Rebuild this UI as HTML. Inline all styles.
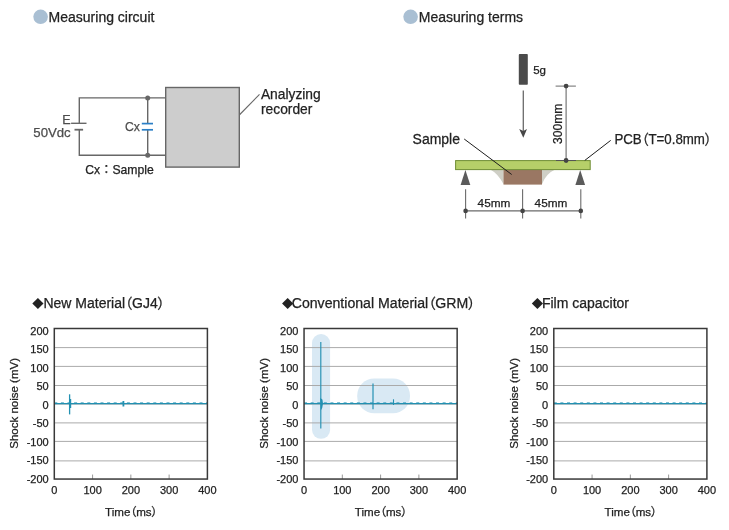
<!DOCTYPE html>
<html><head><meta charset="utf-8"><title>Measuring circuit / Measuring terms</title>
<style>
html,body{margin:0;padding:0;background:#fff;width:729px;height:530px;overflow:hidden}
svg{display:block;will-change:transform}
svg text{font-family:"Liberation Sans", "Noto Sans CJK JP", sans-serif;fill:#222;stroke:#222;stroke-width:0.25px}
.cj{font-family:"Noto Sans CJK JP",sans-serif;font-feature-settings:"palt"}
.cjf{font-family:"Noto Sans CJK JP",sans-serif}
</style></head><body>
<svg width="729" height="530" viewBox="0 0 729 530">
<rect width="729" height="530" fill="#fff"/>
<circle cx="40.6" cy="16.8" r="7.3" fill="#a9bfd3"/>
<text x="48.60" y="22.00" font-size="14">Measuring circuit</text>
<circle cx="410.6" cy="16.8" r="7.3" fill="#a9bfd3"/>
<text x="418.80" y="22.00" font-size="14">Measuring terms</text>
<g stroke="#676767" stroke-width="1.4" fill="none">
<polyline points="165.7,97.9 79.3,97.9 79.3,123.3"/>
<polyline points="165.7,155.3 79.3,155.3 79.3,129.7"/>
<line x1="71.1" y1="123.3" x2="86.5" y2="123.3"/>
<line x1="74.5" y1="129.7" x2="83.1" y2="129.7" stroke-width="1.8"/>
<line x1="147.7" y1="97.9" x2="147.7" y2="123.6"/>
<line x1="147.7" y1="129.8" x2="147.7" y2="155.3"/>
<line x1="239.3" y1="115" x2="259.5" y2="94.4" stroke-width="1.1"/>
</g>
<circle cx="147.7" cy="97.9" r="2.5" fill="#676767"/>
<circle cx="147.7" cy="155.3" r="2.5" fill="#676767"/>
<g stroke="#2b7fc6" stroke-width="1.7"><line x1="141.8" y1="123.6" x2="153" y2="123.6"/><line x1="141.8" y1="129.8" x2="153" y2="129.8"/></g>
<rect x="165.7" y="87.5" width="73.6" height="79.6" fill="#cdcdcd" stroke="#676767" stroke-width="1.4"/>
<text x="62.20" y="124.40" font-size="12.6" style="fill:#4d4d4d;stroke:#4d4d4d">E</text>
<text x="33.30" y="136.90" font-size="13.2" style="fill:#4d4d4d;stroke:#4d4d4d">50Vdc</text>
<text x="125.00" y="131.10" font-size="12.2" style="fill:#4d4d4d;stroke:#4d4d4d">Cx</text>
<text x="85.30" y="173.80" font-size="12.2">Cx<tspan class="cjf">：</tspan>Sample</text>
<text x="260.90" y="98.60" font-size="13.8">Analyzing</text>
<text x="261.00" y="114.40" font-size="13.8">recorder</text>
<rect x="518.8" y="54.1" width="9" height="30.6" rx="0.8" fill="#4b4b4b"/>
<text x="533.20" y="74.00" font-size="11.5">5g</text>
<line x1="523.3" y1="90.5" x2="523.3" y2="131" stroke="#6a6a6a" stroke-width="1.3"/>
<path d="M519.2,129.1 L523.3,131 L527,129.1 L523.3,137.7 Z" fill="#474747"/>
<line x1="555.6" y1="86.1" x2="575.9" y2="86.1" stroke="#6a6a6a" stroke-width="1"/>
<line x1="566.1" y1="86.1" x2="566.1" y2="160.4" stroke="#6a6a6a" stroke-width="1.1"/>
<circle cx="566.1" cy="86.1" r="2.4" fill="#444"/>
<text transform="translate(562.40,144.00) rotate(-90)" font-size="12.1">300mm</text>
<path d="M490.2,169.5 L503.6,169.5 L503.6,184.3 Q498,173.5 490.2,169.5 Z" fill="#cfcfc6"/>
<path d="M555.2,169.5 L541.9,169.5 L541.9,184.3 Q546,173.5 555.2,169.5 Z" fill="#cfcfc6"/>
<rect x="503.5" y="169.6" width="38.5" height="15" fill="#9a7763"/>
<rect x="455.6" y="160.6" width="134.6" height="9" fill="#b6cf69" stroke="#6f8d34" stroke-width="1"/>
<line x1="556" y1="160.5" x2="576" y2="160.5" stroke="#555" stroke-width="1"/>
<circle cx="566.1" cy="160.5" r="2.4" fill="#444"/>
<path d="M465.4,170 L470.3,184.9 L460.6,184.9 Z" fill="#5b5b5b"/>
<path d="M580.2,170 L585.1,184.9 L575.4,184.9 Z" fill="#5b5b5b"/>
<line x1="464.2" y1="139" x2="511.7" y2="174.5" stroke="#1e1e1e" stroke-width="1"/>
<line x1="584.8" y1="160.4" x2="610.7" y2="140.4" stroke="#1e1e1e" stroke-width="1"/>
<text transform="translate(412.60,143.80) scale(1,1.06)" font-size="14">Sample</text>
<text x="614.40" y="144.20" font-size="14" textLength="97.2" lengthAdjust="spacingAndGlyphs">PCB<tspan class="cj">（</tspan>T=0.8mm<tspan class="cj">）</tspan></text>
<g stroke="#6a6a6a" stroke-width="1.1">
<line x1="465.6" y1="189.2" x2="465.6" y2="218.6"/>
<line x1="522.6" y1="189.2" x2="522.6" y2="218.6"/>
<line x1="580.8" y1="189.2" x2="580.8" y2="218.6"/>
<line x1="465.6" y1="210.9" x2="580.8" y2="210.9"/>
</g>
<circle cx="465.6" cy="210.9" r="2.3" fill="#444"/>
<circle cx="522.6" cy="210.9" r="2.3" fill="#444"/>
<circle cx="580.8" cy="210.9" r="2.3" fill="#444"/>
<text x="477.60" y="207.10" font-size="11.8">45mm</text>
<text x="534.60" y="207.10" font-size="11.8">45mm</text>
<path d="M32.3,303.5 l5.6,-5.6 l5.6,5.6 l-5.6,5.6 Z" fill="#222"/>
<text x="43.40" y="308.00" font-size="14">New Material<tspan class="cj">（</tspan>GJ4<tspan class="cj">）</tspan></text>
<line x1="54.3" y1="347.60" x2="207.4" y2="347.60" stroke="#aaa" stroke-width="1"/>
<line x1="54.3" y1="366.40" x2="207.4" y2="366.40" stroke="#aaa" stroke-width="1"/>
<line x1="54.3" y1="385.50" x2="207.4" y2="385.50" stroke="#aaa" stroke-width="1"/>
<line x1="54.3" y1="404.10" x2="207.4" y2="404.10" stroke="#aaa" stroke-width="1"/>
<line x1="54.3" y1="422.90" x2="207.4" y2="422.90" stroke="#aaa" stroke-width="1"/>
<line x1="54.3" y1="441.40" x2="207.4" y2="441.40" stroke="#aaa" stroke-width="1"/>
<line x1="54.3" y1="460.90" x2="207.4" y2="460.90" stroke="#aaa" stroke-width="1"/>
<line x1="92.58" y1="479.05" x2="92.58" y2="474.55" stroke="#999" stroke-width="1"/>
<line x1="130.85" y1="479.05" x2="130.85" y2="474.55" stroke="#999" stroke-width="1"/>
<line x1="169.12" y1="479.05" x2="169.12" y2="474.55" stroke="#999" stroke-width="1"/>
<line x1="54.3" y1="403.67" x2="207.4" y2="403.67" stroke="#2391b2" stroke-width="1.25"/>
<line x1="54.3" y1="402.67" x2="207.4" y2="402.67" stroke="#2391b2" stroke-width="0.9" stroke-dasharray="3 3.6" opacity="0.75"/>
<line x1="69.6" y1="394.3" x2="69.6" y2="414.4" stroke="#2391b2" stroke-width="1.3"/>
<rect x="69" y="399" width="2.2" height="9" fill="#2391b2"/>
<line x1="123.4" y1="401" x2="123.4" y2="406.5" stroke="#2391b2" stroke-width="1.8"/>
<rect x="54.3" y="328.5" width="153.10" height="150.55" fill="none" stroke="#393939" stroke-width="1.5"/>
<text x="48.70" y="334.95" font-size="11" text-anchor="end">200</text>
<text x="48.70" y="353.45" font-size="11" text-anchor="end">150</text>
<text x="48.70" y="371.95" font-size="11" text-anchor="end">100</text>
<text x="48.70" y="390.45" font-size="11" text-anchor="end">50</text>
<text x="48.70" y="408.95" font-size="11" text-anchor="end">0</text>
<text x="48.70" y="427.45" font-size="11" text-anchor="end">-50</text>
<text x="48.70" y="445.95" font-size="11" text-anchor="end">-100</text>
<text x="48.70" y="464.45" font-size="11" text-anchor="end">-150</text>
<text x="48.70" y="482.95" font-size="11" text-anchor="end">-200</text>
<text x="54.30" y="493.70" font-size="11" text-anchor="middle">0</text>
<text x="92.58" y="493.70" font-size="11" text-anchor="middle">100</text>
<text x="130.85" y="493.70" font-size="11" text-anchor="middle">200</text>
<text x="169.12" y="493.70" font-size="11" text-anchor="middle">300</text>
<text x="207.40" y="493.70" font-size="11" text-anchor="middle">400</text>
<text x="131.25" y="515.60" font-size="11.6" text-anchor="middle">Time<tspan class="cj">（</tspan>ms<tspan class="cj">）</tspan></text>
<text transform="translate(18.20,403.40) rotate(-90)" font-size="11.5" text-anchor="middle">Shock noise (mV)</text>
<path d="M282.05,303.5 l5.6,-5.6 l5.6,5.6 l-5.6,5.6 Z" fill="#222"/>
<text x="291.70" y="308.00" font-size="14" textLength="183.6" lengthAdjust="spacingAndGlyphs">Conventional Material<tspan class="cj">（</tspan>GRM<tspan class="cj">）</tspan></text>
<rect x="312" y="334.1" width="18.1" height="104.7" rx="9" fill="#d9e9f4"/>
<rect x="357.2" y="378.5" width="52.8" height="34.7" rx="17" fill="#d9e9f4"/>
<line x1="304.05" y1="347.60" x2="457.15" y2="347.60" stroke="#aaa" stroke-width="1"/>
<line x1="304.05" y1="366.40" x2="457.15" y2="366.40" stroke="#aaa" stroke-width="1"/>
<line x1="304.05" y1="385.50" x2="457.15" y2="385.50" stroke="#aaa" stroke-width="1"/>
<line x1="304.05" y1="404.10" x2="457.15" y2="404.10" stroke="#aaa" stroke-width="1"/>
<line x1="304.05" y1="422.90" x2="457.15" y2="422.90" stroke="#aaa" stroke-width="1"/>
<line x1="304.05" y1="441.40" x2="457.15" y2="441.40" stroke="#aaa" stroke-width="1"/>
<line x1="304.05" y1="460.90" x2="457.15" y2="460.90" stroke="#aaa" stroke-width="1"/>
<line x1="342.32" y1="479.05" x2="342.32" y2="474.55" stroke="#999" stroke-width="1"/>
<line x1="380.60" y1="479.05" x2="380.60" y2="474.55" stroke="#999" stroke-width="1"/>
<line x1="418.88" y1="479.05" x2="418.88" y2="474.55" stroke="#999" stroke-width="1"/>
<line x1="304.05" y1="403.67" x2="457.15" y2="403.67" stroke="#2391b2" stroke-width="1.25"/>
<line x1="304.05" y1="402.67" x2="457.15" y2="402.67" stroke="#2391b2" stroke-width="0.9" stroke-dasharray="3 3.6" opacity="0.75"/>
<line x1="320.8" y1="342" x2="320.8" y2="428.6" stroke="#2391b2" stroke-width="1.15"/>
<path d="M320.2,398 L322.4,399.5 L323,403.5 L322.2,408 L320.8,410.5 Z" fill="#2391b2"/>
<line x1="373" y1="383.4" x2="373" y2="409.2" stroke="#2391b2" stroke-width="1.2"/>
<line x1="393.5" y1="399.3" x2="393.5" y2="405" stroke="#2391b2" stroke-width="1.1"/>
<rect x="304.05" y="328.5" width="153.10" height="150.55" fill="none" stroke="#393939" stroke-width="1.5"/>
<text x="298.45" y="334.95" font-size="11" text-anchor="end">200</text>
<text x="298.45" y="353.45" font-size="11" text-anchor="end">150</text>
<text x="298.45" y="371.95" font-size="11" text-anchor="end">100</text>
<text x="298.45" y="390.45" font-size="11" text-anchor="end">50</text>
<text x="298.45" y="408.95" font-size="11" text-anchor="end">0</text>
<text x="298.45" y="427.45" font-size="11" text-anchor="end">-50</text>
<text x="298.45" y="445.95" font-size="11" text-anchor="end">-100</text>
<text x="298.45" y="464.45" font-size="11" text-anchor="end">-150</text>
<text x="298.45" y="482.95" font-size="11" text-anchor="end">-200</text>
<text x="304.05" y="493.70" font-size="11" text-anchor="middle">0</text>
<text x="342.32" y="493.70" font-size="11" text-anchor="middle">100</text>
<text x="380.60" y="493.70" font-size="11" text-anchor="middle">200</text>
<text x="418.88" y="493.70" font-size="11" text-anchor="middle">300</text>
<text x="457.15" y="493.70" font-size="11" text-anchor="middle">400</text>
<text x="381.00" y="515.60" font-size="11.6" text-anchor="middle">Time<tspan class="cj">（</tspan>ms<tspan class="cj">）</tspan></text>
<text transform="translate(267.95,403.40) rotate(-90)" font-size="11.5" text-anchor="middle">Shock noise (mV)</text>
<path d="M531.8,303.5 l5.6,-5.6 l5.6,5.6 l-5.6,5.6 Z" fill="#222"/>
<text x="541.90" y="308.00" font-size="14">Film capacitor</text>
<line x1="553.8" y1="347.60" x2="706.9" y2="347.60" stroke="#aaa" stroke-width="1"/>
<line x1="553.8" y1="366.40" x2="706.9" y2="366.40" stroke="#aaa" stroke-width="1"/>
<line x1="553.8" y1="385.50" x2="706.9" y2="385.50" stroke="#aaa" stroke-width="1"/>
<line x1="553.8" y1="404.10" x2="706.9" y2="404.10" stroke="#aaa" stroke-width="1"/>
<line x1="553.8" y1="422.90" x2="706.9" y2="422.90" stroke="#aaa" stroke-width="1"/>
<line x1="553.8" y1="441.40" x2="706.9" y2="441.40" stroke="#aaa" stroke-width="1"/>
<line x1="553.8" y1="460.90" x2="706.9" y2="460.90" stroke="#aaa" stroke-width="1"/>
<line x1="592.07" y1="479.05" x2="592.07" y2="474.55" stroke="#999" stroke-width="1"/>
<line x1="630.35" y1="479.05" x2="630.35" y2="474.55" stroke="#999" stroke-width="1"/>
<line x1="668.62" y1="479.05" x2="668.62" y2="474.55" stroke="#999" stroke-width="1"/>
<line x1="553.8" y1="403.67" x2="706.9" y2="403.67" stroke="#2391b2" stroke-width="1.25"/>
<line x1="553.8" y1="402.67" x2="706.9" y2="402.67" stroke="#2391b2" stroke-width="0.9" stroke-dasharray="3 3.6" opacity="0.75"/>
<rect x="553.8" y="328.5" width="153.10" height="150.55" fill="none" stroke="#393939" stroke-width="1.5"/>
<text x="548.20" y="334.95" font-size="11" text-anchor="end">200</text>
<text x="548.20" y="353.45" font-size="11" text-anchor="end">150</text>
<text x="548.20" y="371.95" font-size="11" text-anchor="end">100</text>
<text x="548.20" y="390.45" font-size="11" text-anchor="end">50</text>
<text x="548.20" y="408.95" font-size="11" text-anchor="end">0</text>
<text x="548.20" y="427.45" font-size="11" text-anchor="end">-50</text>
<text x="548.20" y="445.95" font-size="11" text-anchor="end">-100</text>
<text x="548.20" y="464.45" font-size="11" text-anchor="end">-150</text>
<text x="548.20" y="482.95" font-size="11" text-anchor="end">-200</text>
<text x="553.80" y="493.70" font-size="11" text-anchor="middle">0</text>
<text x="592.07" y="493.70" font-size="11" text-anchor="middle">100</text>
<text x="630.35" y="493.70" font-size="11" text-anchor="middle">200</text>
<text x="668.62" y="493.70" font-size="11" text-anchor="middle">300</text>
<text x="706.90" y="493.70" font-size="11" text-anchor="middle">400</text>
<text x="630.75" y="515.60" font-size="11.6" text-anchor="middle">Time<tspan class="cj">（</tspan>ms<tspan class="cj">）</tspan></text>
<text transform="translate(517.70,403.40) rotate(-90)" font-size="11.5" text-anchor="middle">Shock noise (mV)</text>
</svg>
</body></html>
